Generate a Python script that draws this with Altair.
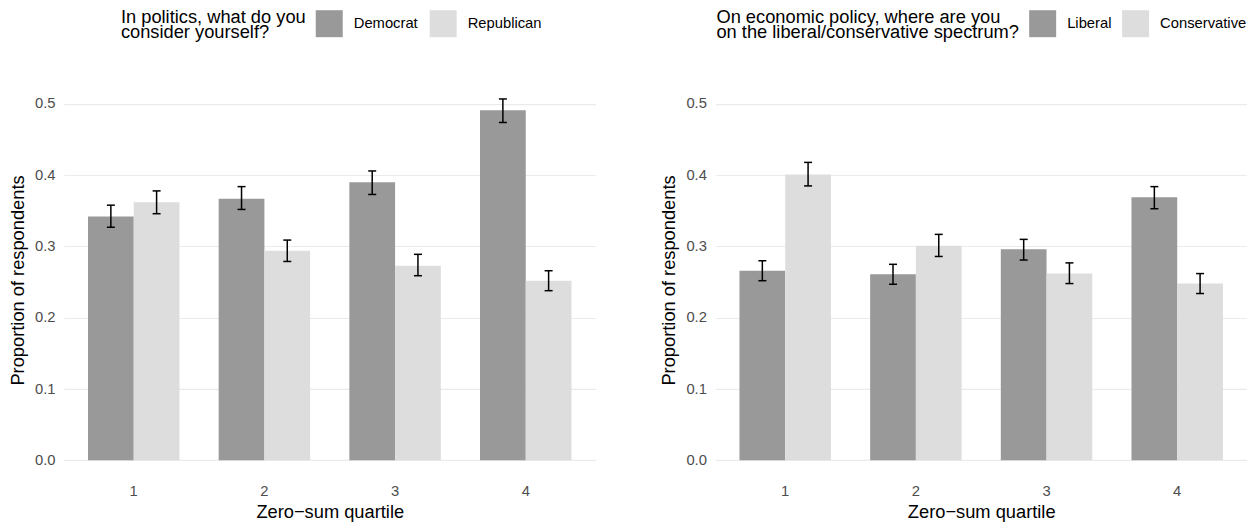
import altair as alt
import pandas as pd

quartiles = ["1", "2", "3", "4"]

# Left panel: party
party_groups = ["Democrat", "Republican"]
dem_vals = [0.342, 0.367, 0.390, 0.491]
dem_lo = [0.327, 0.352, 0.373, 0.474]
dem_hi = [0.358, 0.384, 0.406, 0.507]
rep_vals = [0.362, 0.294, 0.273, 0.252]
rep_lo = [0.346, 0.279, 0.259, 0.238]
rep_hi = [0.378, 0.309, 0.289, 0.266]

# Right panel: economic ideology
ideo_groups = ["Liberal", "Conservative"]
lib_vals = [0.266, 0.261, 0.296, 0.369]
lib_lo = [0.252, 0.247, 0.281, 0.353]
lib_hi = [0.280, 0.275, 0.310, 0.384]
con_vals = [0.401, 0.301, 0.262, 0.248]
con_lo = [0.385, 0.286, 0.248, 0.234]
con_hi = [0.418, 0.317, 0.277, 0.262]

y_ticks = [0.0, 0.1, 0.2, 0.3, 0.4, 0.5]
fills = ["#999999", "#DDDDDD"]

FONT = "Liberation Sans"
TITLE_SIZE = 18.3
TEXT_SIZE = 14.8


def make_df(groups, vals_a, lo_a, hi_a, vals_b, lo_b, hi_b):
    rows = []
    for i, q in enumerate(quartiles):
        rows.append(dict(quartile=q, group=groups[0], value=vals_a[i], lo=lo_a[i], hi=hi_a[i]))
        rows.append(dict(quartile=q, group=groups[1], value=vals_b[i], lo=lo_b[i], hi=hi_b[i]))
    return pd.DataFrame(rows)


def panel(df, groups, legend_title, legend_x, col_pad):
    xscale = alt.Scale(paddingInner=0.3, paddingOuter=0.184)
    xoscale = alt.Scale(domain=groups, paddingInner=0, paddingOuter=0)
    x = alt.X(
        "quartile:N",
        sort=quartiles,
        scale=xscale,
        axis=alt.Axis(
            title="Zero\u2212sum quartile",
            labelAngle=0,
            domain=False,
            ticks=False,
            tickSize=0,
            grid=False,
            labelPadding=5,
            titlePadding=5,
            labelFontSize=TEXT_SIZE,
            labelColor="#4D4D4D",
            labelFont=FONT,
            titleFont=FONT,
            titleFontSize=TITLE_SIZE,
            titleFontWeight="normal",
            titleColor="#000000",
        ),
    )
    xo = alt.XOffset("group:N", sort=groups, scale=xoscale)
    yscale = alt.Scale(domain=[-0.026, 0.532], nice=False, zero=False)
    y = alt.Y(
        "value:Q",
        scale=yscale,
        axis=alt.Axis(
            title="Proportion of respondents",
            values=y_ticks,
            format=".1f",
            domain=False,
            ticks=False,
            tickSize=0,
            grid=True,
            gridColor="#EBEBEB",
            gridWidth=1.1,
            labelPadding=9,
            titlePadding=7,
            labelFontSize=TEXT_SIZE,
            labelColor="#4D4D4D",
            labelFont=FONT,
            titleFont=FONT,
            titleFontSize=TITLE_SIZE,
            titleFontWeight="normal",
            titleColor="#000000",
        ),
    )
    color = alt.Color(
        "group:N",
        sort=groups,
        scale=alt.Scale(domain=groups, range=fills),
        legend=alt.Legend(
            title=legend_title,
            orient="none",
            legendX=legend_x,
            legendY=-71,
            direction="horizontal",
            titleOrient="left",
            titleAnchor="start",
            titleBaseline="line-top",
            titleFont=FONT,
            titleFontSize=TITLE_SIZE,
            titleFontWeight="normal",
            titleColor="#000000",
            titleLineHeight=15,
            titleLimit=500,
            titlePadding=10,
            labelFont=FONT,
            labelFontSize=TEXT_SIZE,
            labelColor="#000000",
            labelLimit=300,
            labelOffset=11,
            columnPadding=col_pad,
            symbolType="square",
            symbolSize=729,
            symbolStrokeWidth=0,
            symbolOpacity=1,
        ),
    )
    base = alt.Chart(df)
    bars = base.mark_bar(opacity=1, width=alt.RelativeBandSize(1)).encode(
        x=x, xOffset=xo, y=y, y2=alt.datum(0), color=color
    )
    xs = alt.X("quartile:N", sort=quartiles, scale=xscale)
    xos = alt.XOffset("group:N", sort=groups, scale=xoscale)
    rules = base.mark_rule(color="black", strokeWidth=1.5).encode(
        x=xs, xOffset=xos, y=alt.Y("lo:Q"), y2="hi:Q",
    )
    caps_lo = base.mark_tick(color="black", thickness=1.5, size=8, opacity=1).encode(
        x=xs, xOffset=xos, y=alt.Y("lo:Q"),
    )
    caps_hi = base.mark_tick(color="black", thickness=1.5, size=8, opacity=1).encode(
        x=xs, xOffset=xos, y=alt.Y("hi:Q"),
    )
    return alt.layer(bars, rules, caps_lo, caps_hi).properties(
        width=532, height=398, view=alt.ViewBackground(strokeWidth=0)
    )


df_party = make_df(party_groups, dem_vals, dem_lo, dem_hi, rep_vals, rep_lo, rep_hi)
df_ideo = make_df(ideo_groups, lib_vals, lib_lo, lib_hi, con_vals, con_lo, con_hi)

left = panel(df_party, party_groups, ["In politics, what do you", "consider yourself?"], 57, 11)
right = panel(df_ideo, ideo_groups, ["On economic policy, where are you", "on the liberal/conservative spectrum?"], 1, 10)

chart = (
    alt.hconcat(left, right, spacing=64)
    .resolve_scale(color="independent", x="independent", xOffset="independent")
    .properties(padding={"left": 0, "top": 2, "right": 0, "bottom": 0})
    .configure_view(strokeWidth=0, stroke="transparent")
    .configure(font=FONT)
)

chart.save("out.html", embed_options={"renderer": "svg", "actions": False})
